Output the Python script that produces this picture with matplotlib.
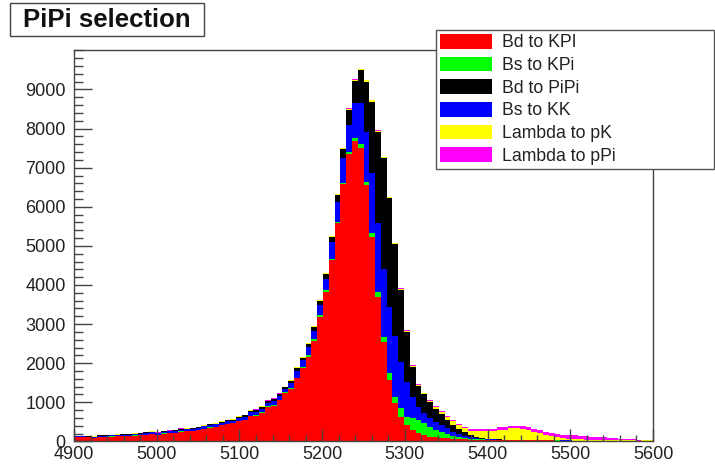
import numpy as np
import matplotlib
matplotlib.use('Agg')
import matplotlib.pyplot as plt
from matplotlib.patches import Patch, Rectangle
from matplotlib.ticker import MultipleLocator, FixedLocator

# 100 bins of 7 MeV between 4900 and 5600
bin_edges = np.arange(4900, 5607, 7)

# events per bin (stacking order: bottom to top)
bd_kpi = [
    110, 110, 100, 90, 120, 120, 125, 130, 140, 140,
    150, 160, 170, 190, 170, 200, 210, 220, 250, 260,
    270, 290, 320, 350, 370, 410, 440, 460, 520, 550,
    640, 660, 730, 880, 910, 1050, 1250, 1350, 1610, 1870,
    2170, 2580, 3190, 3830, 4640, 5580, 6580, 7350, 7690, 7510,
    6570, 5240, 3700, 2550, 1570, 970, 630, 420, 290, 210,
    160, 120, 110, 90, 80, 60, 50, 50, 45, 40,
    40, 38, 36, 35, 33, 32, 30, 30, 28, 27,
    26, 25, 24, 23, 22, 22, 21, 20, 20, 19,
    18, 18, 17, 17, 16, 16, 15, 15, 14, 14]

bs_kpi = [
    3, 3, 3, 3, 3, 3, 4, 4, 4, 4,
    5, 5, 5, 5, 5, 5, 5, 6, 6, 6,
    6, 7, 8, 8, 8, 8, 8, 8, 10, 10,
    12, 12, 13, 13, 15, 14, 12, 17, 23, 23,
    27, 28, 32, 35, 30, 40, 40, 60, 60, 90,
    70, 80, 110, 120, 170, 170, 220, 210, 300, 340,
    300, 260, 190, 150, 120, 90, 60, 40, 25, 15,
    10, 8, 5, 5, 4, 3, 3, 3, 3, 2,
    2, 2, 1, 1, 1, 1, 1, 1, 1, 0,
    0, 0, 0, 0, 0, 0, 0, 0, 0, 0]

bs_kk = [
    22, 22, 22, 22, 22, 22, 25, 28, 28, 28,
    33, 33, 40, 40, 33, 40, 40, 45, 45, 45,
    45, 50, 56, 56, 56, 62, 62, 62, 74, 74,
    92, 92, 98, 98, 110, 104, 85, 128, 178, 178,
    210, 225, 265, 300, 440, 510, 620, 680, 900, 1050,
    1280, 1540, 1770, 1730, 1710, 1560, 1190, 900, 550, 340,
    270, 210, 200, 170, 130, 100, 70, 50, 30, 20,
    15, 10, 8, 5, 4, 4, 4, 3, 3, 2,
    2, 2, 2, 2, 1, 1, 1, 1, 1, 1,
    0, 0, 0, 0, 0, 0, 0, 0, 0, 0]

bd_pipi = [
    8, 8, 8, 8, 8, 8, 9, 10, 10, 10,
    13, 13, 15, 15, 13, 15, 15, 18, 18, 18,
    18, 20, 22, 22, 22, 25, 25, 25, 29, 29,
    36, 36, 38, 38, 42, 40, 33, 50, 70, 70,
    82, 86, 100, 112, 130, 170, 230, 390, 570, 850,
    1280, 1830, 2340, 2840, 2770, 2350, 1840, 1280, 765, 530,
    470, 405, 330, 280, 230, 180, 130, 90, 60, 40,
    25, 15, 10, 5, 4, 3, 3, 2, 2, 2,
    2, 1, 1, 1, 1, 1, 0, 0, 0, 0,
    0, 0, 0, 0, 0, 0, 0, 0, 0, 0]

lambda_pk = [
    5, 5, 5, 5, 5, 5, 5, 5, 5, 5,
    6, 6, 7, 7, 6, 7, 7, 8, 8, 8,
    8, 9, 10, 10, 10, 11, 11, 11, 12, 12,
    14, 14, 15, 15, 17, 16, 14, 18, 22, 22,
    24, 24, 26, 26, 10, 30, 30, 30, 30, 15,
    30, 30, 30, 30, 30, 20, 25, 25, 30, 35,
    35, 40, 50, 55, 65, 80, 100, 110, 110, 140,
    165, 185, 200, 240, 255, 288, 295, 287, 259, 212,
    178, 125, 107, 73, 65, 45, 42, 33, 23, 20,
    20, 20, 20, 20, 16, 14, 12, 8, 10, 12]

lambda_ppi = [
    2, 2, 2, 2, 2, 2, 2, 3, 3, 3,
    3, 3, 3, 3, 3, 3, 3, 3, 3, 3,
    3, 4, 4, 4, 4, 4, 4, 4, 5, 5,
    6, 6, 6, 6, 6, 6, 6, 7, 7, 7,
    7, 7, 7, 7, 5, 10, 10, 10, 10, 5,
    10, 10, 10, 10, 10, 10, 15, 15, 15, 15,
    15, 15, 20, 25, 25, 30, 30, 30, 55, 60,
    65, 65, 65, 70, 70, 70, 65, 65, 65, 65,
    70, 75, 75, 80, 80, 90, 95, 95, 85, 80,
    80, 70, 60, 50, 38, 28, 22, 18, 14, 12]

stack = [bd_kpi, bs_kpi, bs_kk, bd_pipi, lambda_pk, lambda_ppi]
stack_colors = ['#ff0000', '#00ff00', '#0000ff', '#000000', '#ffff00', '#ff00ff']

legend_labels = ['Bd to KPI', 'Bs to KPi', 'Bd to PiPi', 'Bs to KK', 'Lambda to pK', 'Lambda to pPi']
legend_colors = ['#ff0000', '#00ff00', '#000000', '#0000ff', '#ffff00', '#ff00ff']

y_ticks = [0, 1000, 2000, 3000, 4000, 5000, 6000, 7000, 8000, 9000]

plt.rcParams['font.family'] = ['Liberation Sans', 'DejaVu Sans']

fig = plt.figure(figsize=(7.15, 4.69), dpi=100)
ax = fig.add_axes([74 / 715, 27.6 / 469, 579 / 715, 391.4 / 469])

bottom = np.zeros(len(bd_kpi))
for vals, col in zip(stack, stack_colors):
    top = bottom + np.array(vals, dtype=float)
    ax.stairs(top, bin_edges, baseline=bottom, fill=True, color=col, linewidth=0)
    bottom = top

ax.set_xlim(4900, 5600)
ax.set_ylim(0, 10010)
ax.xaxis.set_major_locator(MultipleLocator(100))
ax.xaxis.set_minor_locator(MultipleLocator(20))
ax.yaxis.set_major_locator(FixedLocator(y_ticks))
ax.yaxis.set_minor_locator(MultipleLocator(200))

ax.tick_params(axis='both', which='both', direction='in', color='#444444',
               labelcolor='#222222', labelsize=13, top=False, right=False)
ax.tick_params(axis='y', which='major', length=13, width=1, pad=6)
ax.tick_params(axis='y', which='minor', length=6.5, width=1)
ax.tick_params(axis='x', which='major', length=8.5, width=1, pad=3)
ax.tick_params(axis='x', which='minor', length=4.3, width=1)
for sp in ax.spines.values():
    sp.set_color('#444444')
    sp.set_linewidth(1)

# title box, ROOT style
fig.patches.append(Rectangle((10 / 715, 1 - 36 / 469), 194 / 715, 33 / 469,
                             transform=fig.transFigure, facecolor='white',
                             edgecolor='#444444', linewidth=1))
fig.text(107 / 715, 1 - 20 / 469, 'PiPi selection', ha='center', va='center',
         fontsize=18.5, fontweight='bold', color='#111111')

handles = [Patch(facecolor=c, edgecolor='none') for c in legend_colors]
leg = fig.legend(handles, legend_labels, loc='upper left',
                 bbox_to_anchor=(436 / 715, 1 - 168 / 469, 278 / 715, 138 / 469),
                 mode='expand', fontsize=12.7, handlelength=2.95, handleheight=0.9,
                 handletextpad=0.6, labelspacing=0.3, borderpad=0.22,
                 borderaxespad=0, fancybox=False, framealpha=1)
leg.get_frame().set_edgecolor('#555555')
leg.get_frame().set_linewidth(1)
for t in leg.get_texts():
    t.set_color('#222222')

fig.savefig('out.png', dpi=100)
